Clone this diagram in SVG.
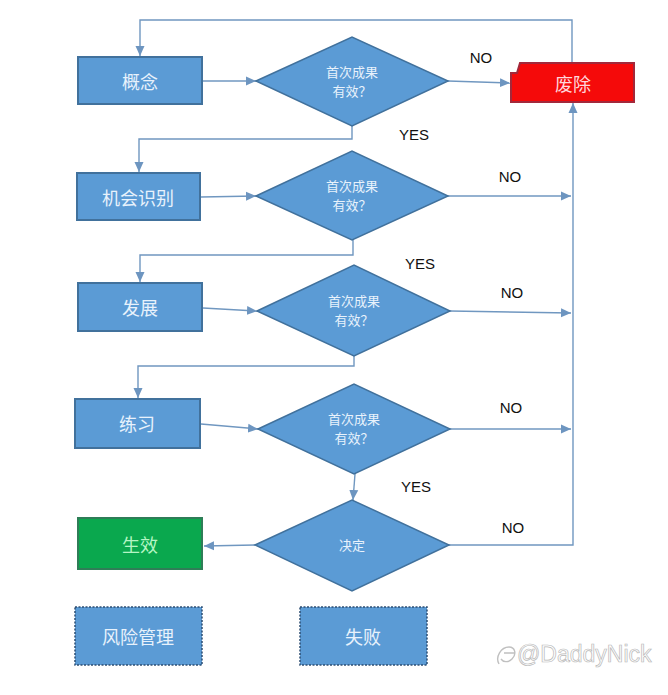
<svg xmlns="http://www.w3.org/2000/svg" width="668" height="695" viewBox="0 0 668 695">
<style>
.box{fill:#5b9bd5;stroke:#41719c;stroke-width:2}
.dot{fill:#5b9bd5;stroke:#2e4f73;stroke-width:1.5;stroke-dasharray:2 1.5}
.dia{fill:#5b9bd5;stroke:#41719c;stroke-width:1.5}
.bt{font-family:"Noto Sans CJK SC",sans-serif;font-size:18px;fill:#e8f2fc;text-anchor:middle;dominant-baseline:central}
.dt{font-family:"Noto Sans CJK SC",sans-serif;font-size:13px;fill:#e8f2fc;text-anchor:middle}
.lb{font-family:"Liberation Sans",sans-serif;font-size:15px;fill:#111;text-anchor:middle}
.c{fill:none;stroke:#7097c0;stroke-width:1.4}
</style>
<defs>
<marker id="ah" markerUnits="userSpaceOnUse" markerWidth="11" markerHeight="10" refX="10" refY="5" orient="auto">
<path d="M0,0.5 L10,5 L0,9.5 z" fill="#6d95c0"/>
</marker>
</defs>
<rect width="668" height="695" fill="#ffffff"/>

<g id="connectors">
<path class="c" d="M572,63 V20 H140 V56" marker-end="url(#ah)"/>
<path class="c" d="M203,81 H256" marker-end="url(#ah)"/>
<path class="c" d="M448,81 L510,83" marker-end="url(#ah)"/>
<path class="c" d="M352,126 V139 H139 V172" marker-end="url(#ah)"/>
<path class="c" d="M201,197 L256,196" marker-end="url(#ah)"/>
<path class="c" d="M448,196 H571" marker-end="url(#ah)"/>
<path class="c" d="M353,240 V255 H140 V282" marker-end="url(#ah)"/>
<path class="c" d="M203,308 L257,311" marker-end="url(#ah)"/>
<path class="c" d="M450,311 L571,313" marker-end="url(#ah)"/>
<path class="c" d="M354,356 V366 H138 V398" marker-end="url(#ah)"/>
<path class="c" d="M201,424 L258,429" marker-end="url(#ah)"/>
<path class="c" d="M450,429 H571" marker-end="url(#ah)"/>
<path class="c" d="M355,474 L353,500" marker-end="url(#ah)"/>
<path class="c" d="M449,545 H573 V103" marker-end="url(#ah)"/>
<path class="c" d="M255,545 L204,546" marker-end="url(#ah)"/>
<text class="lb" x="481" y="63">NO</text>
<text class="lb" x="414" y="140">YES</text>
<text class="lb" x="510" y="182">NO</text>
<text class="lb" x="420" y="269">YES</text>
<text class="lb" x="512" y="298">NO</text>
<text class="lb" x="511" y="413">NO</text>
<text class="lb" x="416" y="492">YES</text>
<text class="lb" x="513" y="533">NO</text>
</g>

<g id="n-gainian"><rect class="box" x="78" y="57" width="124" height="47"/><text class="bt" x="140" y="81">概念</text></g>
<g id="n-jihui"><rect class="box" x="77" y="173" width="123" height="47"/><text class="bt" x="138" y="197">机会识别</text></g>
<g id="n-fazhan"><rect class="box" x="78" y="283" width="124" height="48"/><text class="bt" x="140" y="307">发展</text></g>
<g id="n-lianxi"><rect class="box" x="75" y="399" width="125" height="49"/><text class="bt" x="137" y="423">练习</text></g>
<g id="n-shengxiao"><rect x="78" y="518" width="124" height="51" fill="#0aa84e" stroke="#2f7d57" stroke-width="2"/><text class="bt" x="140" y="544" style="fill:#b4f5c4">生效</text></g>
<g id="n-feichu"><path d="M520,63 H634 V102 H511 V73 H517 Z" fill="#f50a0a" stroke="#a3283a" stroke-width="2"/><text class="bt" x="573" y="83" style="fill:#ffd6dc">废除</text></g>
<g id="n-fengxian"><rect class="dot" x="75" y="607" width="127" height="58"/><text class="bt" x="138" y="636">风险管理</text></g>
<g id="n-shibai"><rect class="dot" x="300" y="607" width="127" height="58"/><text class="bt" x="363" y="636">失败</text></g>

<g id="d1"><polygon class="dia" points="256,81 352,37 448,81 352,126"/><text class="dt" x="352" y="77">首次成果<tspan x="352" dy="19">有效？</tspan></text></g>
<g id="d2"><polygon class="dia" points="256,196 352,151 448,196 352,240"/><text class="dt" x="352" y="191">首次成果<tspan x="352" dy="19">有效？</tspan></text></g>
<g id="d3"><polygon class="dia" points="257,311 354,265 450,311 354,356"/><text class="dt" x="354" y="306">首次成果<tspan x="354" dy="19">有效？</tspan></text></g>
<g id="d4"><polygon class="dia" points="258,429 354,384 450,429 354,474"/><text class="dt" x="354" y="424">首次成果<tspan x="354" dy="19">有效？</tspan></text></g>
<g id="d5"><polygon class="dia" points="255,545 352,500 449,545 352,591"/><text class="dt" x="352" y="550">决定</text></g>

<g id="watermark">
<path d="M499,664 C495,657 501,647 509,647 C515,647 517,654 512,659 C508,663 503,662 501,659 M504,653 L515,653" fill="none" stroke="#c0c0c0" stroke-width="1.4"/>
<text x="517" y="662" font-family="Liberation Sans, sans-serif" font-size="23" fill="#ffffff" stroke="#b8b8b8" stroke-width="0.7">@DaddyNick</text>
</g>
</svg>
